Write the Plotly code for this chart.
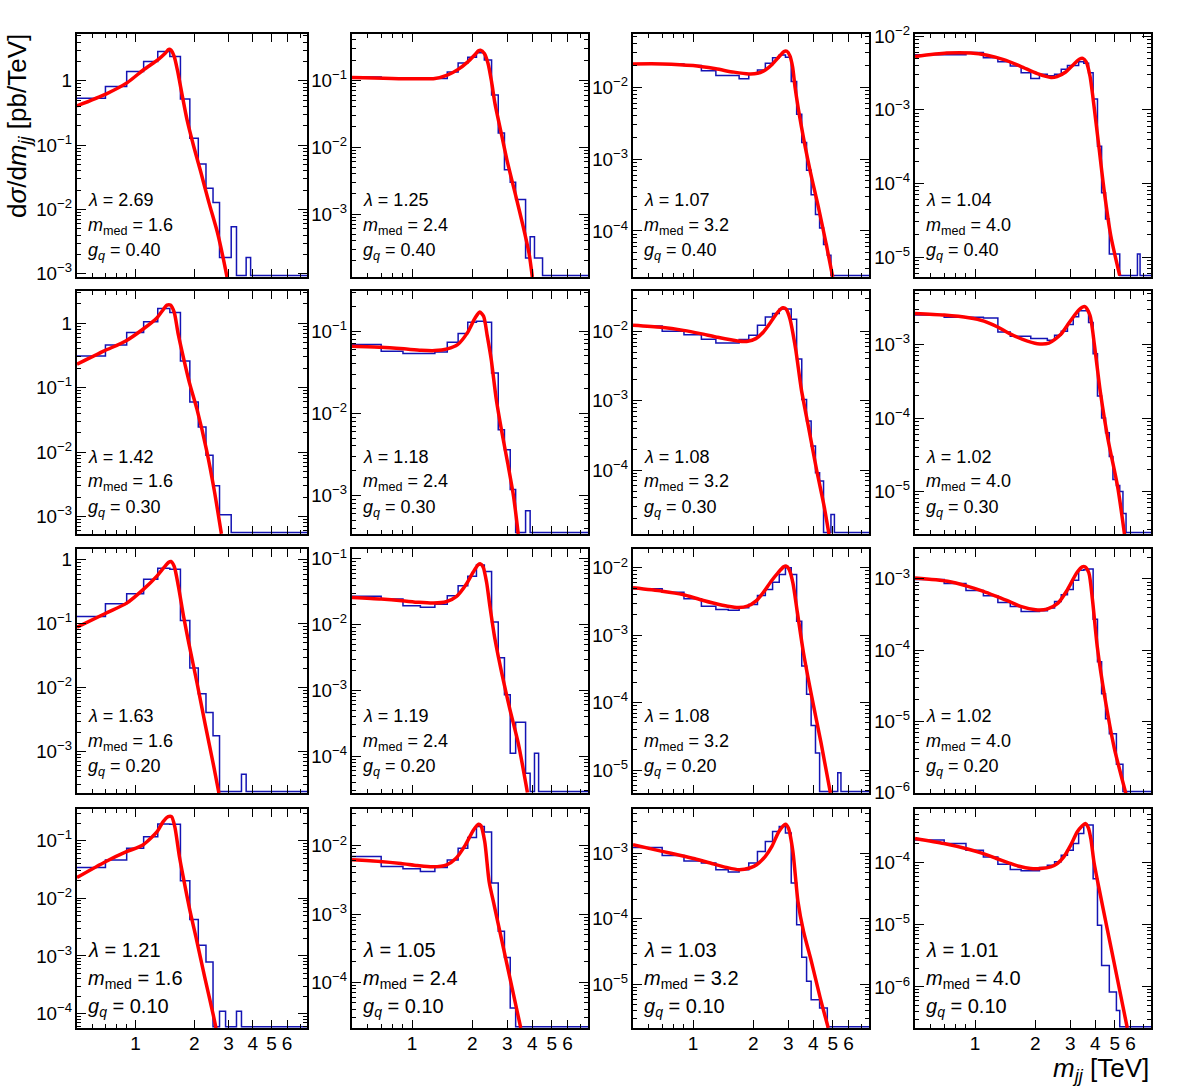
import math
import plotly.graph_objects as go

# ---------------- data ----------------
# histogram bin edges in TeV (0.2 TeV bins)
EDGES_TEV = [0.5, 0.7, 0.9, 1.1, 1.3, 1.5, 1.7, 1.9, 2.1, 2.3, 2.5, 2.7, 2.9, 3.1, 3.3, 3.5,
             3.7, 3.9, 4.1, 4.3, 4.5, 4.7, 4.9, 5.1, 5.3, 5.5, 5.7, 5.9, 6.1, 6.3, 6.5, 6.7,
             6.9, 7.1, 7.3, 7.5, 7.7]

# histogram contents (pb/TeV); bins not listed are empty
H_R1C1 = [0.54, 0.82, 1.40, 2.0, 2.86, 2.39, 0.525, 0.128, 0.051, 0.0215, 0.0129, 1.8e-3, 1.8e-3, 5.4e-3, 0, 0, 1.8e-3]
H_R1C2 = [0.112, 0.108, 0.105, 0.104, 0.106, 0.133, 0.18, 0.22, 0.256, 0.20, 0.06, 0.0163, 4.6e-3, 3.0e-3, 1.65e-3, 1.65e-3, 2.2e-4, 4.6e-4, 2.2e-4, 2.2e-4]
H_R1C3 = [0.0211, 0.0211, 0.0200, 0.017, 0.0145, 0.0145, 0.0131, 0.0153, 0.0174, 0.0215, 0.0257, 0.028, 0.026, 0.012, 4.2e-3, 1.7e-3, 7e-4, 3.2e-4, 1.7e-4, 1.1e-4, 6.5e-5, 4.6e-5]
H_R1C4 = [5.6e-3, 5.6e-3, 6.0e-3, 5.1e-3, 4.5e-3, 3.95e-3, 3.2e-3, 2.66e-3, 3.05e-3, 2.9e-3, 3.05e-3, 3.56e-3, 4.0e-3, 4.0e-3, 4.5e-3, 4.3e-3, 3.2e-3, 1.4e-3, 3.2e-4, 7.5e-5, 3.3e-5, 1.1e-5, 1.1e-5, 1.1e-5, 0, 0, 0, 0, 0, 0, 1.1e-5]
H_R2C1 = [0.31, 0.46, 0.72, 1.05, 1.69, 1.47, 0.26, 0.06, 0.0245, 8.97e-3, 3.0e-3, 1.07e-3, 1.07e-3]
H_R2C2 = [0.0687, 0.057, 0.0534, 0.0534, 0.056, 0.0734, 0.094, 0.129, 0.132, 0.129, 0.031, 6.3e-3, 3.6e-3, 1.18e-3, 0, 0, 6.5e-4]
H_R2C3 = [0.0119, 0.010, 8.9e-3, 7.65e-3, 6.8e-3, 6.8e-3, 7.6e-3, 8.75e-3, 0.0122, 0.0161, 0.018, 0.0209, 0.0209, 0.0149, 4.0e-3, 1.04e-3, 5.1e-4, 2.23e-4, 9.2e-5, 7e-5, 0, 0, 2.3e-5]
H_R2C4 = [2.53e-3, 2.35e-3, 2.35e-3, 2.3e-3, 1.49e-3, 1.3e-3, 1.3e-3, 1.21e-3, 1.21e-3, 1.15e-3, 1.34e-3, 1.52e-3, 1.88e-3, 2.4e-3, 2.9e-3, 2.9e-3, 2.0e-3, 7.5e-4, 2.0e-4, 1.0e-4, 6.3e-5, 3.0e-5, 1.45e-5, 1.2e-5, 1.0e-5, 5e-6]
H_R3C1 = [0.13, 0.205, 0.294, 0.498, 0.74, 0.714, 0.112, 0.0202, 8.0e-3, 4.08e-3, 1.76e-3, 0, 0, 0, 0, 4.4e-4]
H_R3C2 = [0.0269, 0.0245, 0.0194, 0.0183, 0.0205, 0.0275, 0.039, 0.0543, 0.081, 0.064, 0.011, 3.14e-3, 8.6e-4, 1.11e-4, 3.27e-4, 3.27e-4, 5.5e-5, 0, 1.11e-4]
H_R3C3 = [4.88e-3, 4.36e-3, 3.47e-3, 2.7e-3, 2.41e-3, 2.36e-3, 2.55e-3, 2.86e-3, 3.89e-3, 4.77e-3, 6.1e-3, 7.95e-3, 0.0100, 8.0e-3, 1.62e-3, 3.5e-4, 1.33e-4, 4.6e-5, 1.8e-5, 0, 0, 0, 0, 0, 9.1e-6]
H_R3C4 = [9.8e-4, 8.6e-4, 6.9e-4, 5.8e-4, 4.68e-4, 4.1e-4, 3.5e-4, 3.5e-4, 3.57e-4, 3.9e-4, 4.83e-4, 6.0e-4, 7.1e-4, 9.6e-4, 1.32e-3, 1.35e-3, 1.38e-3, 2.72e-4, 6.9e-5, 2.45e-5, 1.09e-5, 6.7e-6, 6.7e-6, 2.5e-6, 2.5e-6]
H_R4C1 = [0.0343, 0.0461, 0.0736, 0.1175, 0.195, 0.192, 0.0201, 4.29e-3, 1.53e-3, 7.87e-4, 0, 1.1e-4, 0, 0, 1.1e-4]
H_R4C2 = [6.98e-3, 4.99e-3, 4.6e-3, 4.2e-3, 4.8e-3, 6.2e-3, 9.2e-3, 0.0132, 0.0192, 0.0159, 2.85e-3, 5.6e-4, 2.3e-4, 4.2e-5]
H_R4C3 = [1.22e-3, 9.2e-4, 7.6e-4, 7.05e-4, 5.58e-4, 5.14e-4, 5.58e-4, 7.05e-4, 1.06e-3, 1.5e-3, 2.13e-3, 2.54e-3, 2.01e-3, 3.5e-4, 8.1e-5, 2.6e-5, 1.12e-5, 5.9e-6, 5.9e-6, 4.4e-6, 4.4e-6]
H_R4C4 = [2.29e-4, 2.02e-4, 1.58e-4, 1.23e-4, 9.4e-5, 7.7e-5, 7.35e-5, 7.35e-5, 8.3e-5, 9.06e-5, 1.03e-4, 1.31e-4, 1.58e-4, 2.02e-4, 2.93e-4, 3.99e-4, 3.99e-4, 5.5e-5, 9.8e-6, 2.22e-6, 2.22e-6, 8.3e-7, 8.3e-7, 4.2e-7]

# fitted curves: mass (TeV) and dsigma/dm (pb/TeV)
CX_R1C1 = [0.5, 0.708, 0.906, 1.095, 1.31, 1.42, 1.48, 1.52, 1.58, 1.64, 1.74, 1.84, 1.99, 2.16, 2.38, 2.64, 2.83, 2.95]
CY_R1C1 = [0.41, 0.63, 0.94, 1.48, 2.17, 2.69, 3.09, 3.02, 2.39, 1.48, 0.575, 0.245, 0.0955, 0.0389, 0.0129, 4.27e-3, 1.66e-3, 8.9e-4]
CX_R1C2 = [0.5, 1.0, 1.3, 1.5, 1.7, 1.9, 2.05, 2.15, 2.2, 2.3, 2.4, 2.5, 2.6, 2.8, 3.0, 3.3, 3.6, 3.85, 4.0]
CY_R1C2 = [0.110, 0.105, 0.106, 0.119, 0.145, 0.188, 0.236, 0.275, 0.281, 0.251, 0.178, 0.0944, 0.0447, 0.0158, 6.0e-3, 1.9e-3, 6.5e-4, 2.6e-4, 1.15e-4]
CX_R1C3 = [0.5, 0.7, 1.0, 1.3, 1.6, 1.9, 2.1, 2.3, 2.5, 2.7, 2.85, 2.95, 3.05, 3.15, 3.24, 3.49, 3.85, 4.24, 4.67, 5.0]
CY_R1C3 = [0.0211, 0.0211, 0.0200, 0.0180, 0.0162, 0.0153, 0.0156, 0.0174, 0.0211, 0.0267, 0.0313, 0.0316, 0.0275, 0.0191, 0.0100, 2.78e-3, 6.97e-4, 2.15e-4, 6.0e-5, 2.3e-5]
CX_R1C4 = [0.5, 0.72, 0.95, 1.15, 1.39, 1.69, 2.05, 2.4, 2.57, 2.83, 3.12, 3.34, 3.46, 3.6, 3.76, 3.94, 4.18, 4.42, 4.78, 5.3]
CY_R1C4 = [5.3e-3, 5.9e-3, 5.9e-3, 5.5e-3, 4.8e-3, 3.9e-3, 3.1e-3, 2.75e-3, 2.83e-3, 3.24e-3, 4.17e-3, 4.9e-3, 5.0e-3, 4.47e-3, 2.88e-3, 1.12e-3, 2.95e-4, 8.3e-5, 1.95e-5, 5.6e-6]
CX_R2C1 = [0.5, 0.69, 0.89, 1.09, 1.29, 1.37, 1.45, 1.51, 1.58, 1.65, 1.77, 1.89, 2.07, 2.32, 2.54, 2.76]
CY_R2C1 = [0.231, 0.372, 0.531, 0.807, 1.22, 1.55, 1.91, 1.91, 1.47, 0.716, 0.275, 0.120, 0.0457, 0.0105, 2.5e-3, 5.4e-4]
CX_R2C2 = [0.5, 0.70, 0.91, 1.11, 1.30, 1.50, 1.69, 1.89, 2.07, 2.18, 2.28, 2.38, 2.49, 2.64, 2.82, 3.01, 3.22, 3.40]
CY_R2C2 = [0.0656, 0.0638, 0.0610, 0.0586, 0.0581, 0.0610, 0.0687, 0.0955, 0.146, 0.171, 0.152, 0.0871, 0.0452, 0.0147, 5.75e-3, 2.48e-3, 9.8e-4, 3.4e-4]
CX_R2C3 = [0.5, 0.69, 0.895, 1.09, 1.30, 1.67, 1.88, 2.06, 2.25, 2.45, 2.68, 2.82, 2.92, 3.05, 3.26, 3.48, 3.80, 4.15, 4.53, 4.79]
CY_R2C3 = [0.0122, 0.0114, 0.0103, 9.25e-3, 8.28e-3, 7.24e-3, 7.16e-3, 7.83e-3, 9.77e-3, 0.0136, 0.0195, 0.0218, 0.0209, 0.0153, 5.6e-3, 1.48e-3, 3.9e-4, 1.02e-4, 3.0e-5, 1.2e-5]
CX_R2C4 = [0.5, 0.70, 0.93, 1.107, 1.29, 1.49, 1.73, 2.05, 2.34, 2.68, 2.98, 3.33, 3.55, 3.76, 3.96, 4.24, 4.63, 5.17, 5.6]
CY_R2C4 = [2.66e-3, 2.53e-3, 2.32e-3, 2.09e-3, 1.75e-3, 1.41e-3, 1.18e-3, 1.03e-3, 1.05e-3, 1.37e-3, 2.05e-3, 3.02e-3, 3.29e-3, 2.51e-3, 9.8e-4, 2.24e-4, 5.1e-5, 1.17e-5, 2.6e-6]
CX_R3C1 = [0.5, 0.703, 0.9, 1.10, 1.29, 1.39, 1.48, 1.52, 1.58, 1.66, 1.765, 1.87, 2.07, 2.28, 2.52, 2.68]
CY_R3C1 = [0.0883, 0.146, 0.210, 0.348, 0.562, 0.741, 0.918, 0.942, 0.787, 0.383, 0.130, 0.0525, 0.0117, 2.63e-3, 5.9e-4, 2.24e-4]
CX_R3C2 = [0.5, 0.70, 0.89, 1.08, 1.28, 1.48, 1.67, 1.87, 2.02, 2.14, 2.20, 2.27, 2.36, 2.45, 2.60, 2.81, 3.09, 3.40, 3.78]
CY_R3C2 = [0.0259, 0.0245, 0.0231, 0.0218, 0.0213, 0.0223, 0.0269, 0.0415, 0.0625, 0.0809, 0.0839, 0.0746, 0.0440, 0.0194, 5.98e-3, 1.85e-3, 5.1e-4, 1.58e-4, 2.8e-5]
CX_R3C3 = [0.5, 0.70, 0.887, 1.08, 1.29, 1.49, 1.69, 1.87, 2.06, 2.24, 2.46, 2.66, 2.84, 2.93, 3.03, 3.16, 3.33, 3.57, 3.92, 4.37, 4.87]
CY_R3C3 = [5.06e-3, 4.51e-3, 4.03e-3, 3.40e-3, 2.96e-3, 2.70e-3, 2.58e-3, 2.70e-3, 3.21e-3, 4.27e-3, 6.34e-3, 8.43e-3, 0.01035, 0.0106, 9.44e-3, 6.0e-3, 2.15e-3, 5.5e-4, 1.26e-4, 2.55e-5, 4.6e-6]
CX_R3C4 = [0.5, 0.728, 0.92, 1.10, 1.28, 1.48, 1.69, 2.01, 2.29, 2.6, 2.9, 3.23, 3.44, 3.55, 3.71, 3.87, 4.09, 4.46, 4.97, 5.7]
CY_R3C4 = [1.03e-3, 9.27e-4, 7.87e-4, 6.7e-4, 5.69e-4, 4.83e-4, 4.11e-4, 3.69e-4, 3.77e-4, 4.58e-4, 7.06e-4, 1.22e-3, 1.48e-3, 1.48e-3, 1.22e-3, 5.1e-4, 1.12e-4, 2.2e-5, 4.3e-6, 9.5e-7]
CX_R4C1 = [0.5, 0.70, 0.898, 1.09, 1.29, 1.386, 1.47, 1.53, 1.59, 1.68, 1.77, 1.90, 2.06, 2.27, 2.51, 2.59]
CY_R4C1 = [0.0230, 0.0432, 0.0644, 0.0841, 0.1435, 0.214, 0.261, 0.261, 0.175, 0.0527, 0.0207, 6.22e-3, 1.87e-3, 4.17e-4, 9.3e-5, 5.6e-5]
CX_R4C2 = [0.5, 0.69, 0.88, 1.06, 1.27, 1.49, 1.65, 1.85, 2.03, 2.15, 2.21, 2.31, 2.43, 2.58, 2.8, 3.1, 3.5]
CY_R4C2 = [6.24e-3, 5.9e-3, 5.51e-3, 5.15e-3, 4.93e-3, 5.27e-3, 6.46e-3, 0.01035, 0.01714, 0.02075, 0.0198, 0.01156, 3.0e-3, 1.32e-3, 4.37e-4, 1.1e-4, 2.14e-5]
CX_R4C3 = [0.5, 0.70, 0.867, 1.02, 1.22, 1.47, 1.70, 1.92, 2.08, 2.30, 2.48, 2.69, 2.9, 3.0, 3.16, 3.35, 3.57, 3.91, 4.33, 4.75]
CY_R4C3 = [1.34e-3, 1.06e-3, 9.2e-4, 8.2e-4, 7.05e-4, 6.05e-4, 5.58e-4, 5.92e-4, 6.65e-4, 8.9e-4, 1.26e-3, 2.13e-3, 2.75e-3, 2.4e-3, 1.06e-3, 1.84e-4, 6.5e-5, 2.26e-5, 6.3e-6, 2.2e-6]
CX_R4C4 = [0.5, 0.698, 0.897, 1.09, 1.28, 1.47, 1.66, 1.90, 2.13, 2.39, 2.58, 2.78, 3.01, 3.25, 3.44, 3.56, 3.68, 3.8, 3.94, 4.17, 4.59, 5.15, 5.78]
CY_R4C4 = [2.44e-4, 2.02e-4, 1.68e-4, 1.40e-4, 1.16e-4, 9.9e-5, 8.7e-5, 8.0e-5, 8.0e-5, 8.5e-5, 9.6e-5, 1.23e-4, 1.9e-4, 3.12e-4, 3.9e-4, 4.25e-4, 3.7e-4, 2.4e-4, 1.0e-4, 3.9e-5, 8.5e-6, 1.38e-6, 2.2e-7]

# panel parameters (row-major)
LAMBDA = ["2.69", "1.25", "1.07", "1.04",
          "1.42", "1.18", "1.08", "1.02",
          "1.63", "1.19", "1.08", "1.02",
          "1.21", "1.05", "1.03", "1.01"]
M_MED = ["1.6", "2.4", "3.2", "4.0"]
G_Q = ["0.40", "0.30", "0.20", "0.10"]
X_TICKS = [1, 2, 3, 4, 5, 6]
X_MINOR_TICKS = [0.6, 0.7, 0.8, 0.9, 7]

HISTS = [H_R1C1, H_R1C2, H_R1C3, H_R1C4, H_R2C1, H_R2C2, H_R2C3, H_R2C4,
         H_R3C1, H_R3C2, H_R3C3, H_R3C4, H_R4C1, H_R4C2, H_R4C3, H_R4C4]
CURVES_X = [CX_R1C1, CX_R1C2, CX_R1C3, CX_R1C4, CX_R2C1, CX_R2C2, CX_R2C3, CX_R2C4,
            CX_R3C1, CX_R3C2, CX_R3C3, CX_R3C4, CX_R4C1, CX_R4C2, CX_R4C3, CX_R4C4]
CURVES_Y = [CY_R1C1, CY_R1C2, CY_R1C3, CY_R1C4, CY_R2C1, CY_R2C2, CY_R2C3, CY_R2C4,
            CY_R3C1, CY_R3C2, CY_R3C3, CY_R3C4, CY_R4C1, CY_R4C2, CY_R4C3, CY_R4C4]

# ---------------- layout settings ----------------
W, H = 1182, 1086
COL_PX = [(77, 307), (352, 588), (633, 869), (915, 1151)]
ROW_PX = [(34, 277), (291, 534), (549, 793), (809, 1028)]
X_RANGE = [math.log10(0.5), math.log10(7.6)]
Y_RANGES = [(-3.05, 0.73), (-3.94, -0.31), (-4.64, -1.26), (-5.27, -1.97),
            (-3.27, 0.50), (-3.47, -0.51), (-4.92, -1.42), (-5.58, -2.27),
            (-3.65, 0.17), (-4.56, -0.85), (-5.34, -1.72), (-6.005, -2.58),
            (-4.25, -0.45), (-4.67, -1.46), (-5.66, -2.33), (-6.66, -3.14)]
FONT = "Liberation Sans, Arial, Helvetica, sans-serif"
BLUE = "#1414b4"
RED = "#ff0000"

fig = go.Figure()
layout = dict(width=W, height=H, autosize=False,
              margin=dict(l=0, r=0, t=0, b=0, pad=0, autoexpand=False),
              paper_bgcolor="white", plot_bgcolor="white", showlegend=False,
              font=dict(family=FONT, color="black"))
annotations = []
nbins = len(EDGES_TEV) - 1

for r in range(4):
    for c in range(4):
        i = r * 4 + c
        n = i + 1
        xs = "" if n == 1 else str(n)
        xa, ya = "x" + xs, "y" + xs
        ymin, ymax = Y_RANGES[i]
        floor = 10 ** (ymin + 0.006 * (ymax - ymin))

        vals = list(HISTS[i]) + [0.0] * (nbins - len(HISTS[i]))
        yv = [max(v, floor) for v in vals]
        yv.append(yv[-1])
        fig.add_trace(go.Scatter(x=EDGES_TEV, y=yv, mode="lines",
                                 line=dict(shape="hv", color=BLUE, width=1.5),
                                 xaxis=xa, yaxis=ya, hoverinfo="skip"))
        fig.add_trace(go.Scatter(x=CURVES_X[i], y=CURVES_Y[i], mode="lines",
                                 line=dict(shape="spline", smoothing=0.7, color=RED, width=3.5),
                                 xaxis=xa, yaxis=ya, hoverinfo="skip"))

        x0, x1 = COL_PX[c]
        y0, y1 = ROW_PX[r]
        layout["xaxis" + xs] = dict(
            type="log", range=X_RANGE, domain=[x0 / W, x1 / W], anchor=ya,
            automargin=False,
            showline=True, linecolor="black", linewidth=2, mirror="ticks",
            ticks="inside", ticklen=8, tickwidth=1, tickcolor="black",
            tickmode="array", tickvals=X_TICKS, ticktext=[str(t) for t in X_TICKS],
            showticklabels=(r == 3), tickfont=dict(size=19, family=FONT),
            ticklabelstandoff=-3,
            minor=dict(ticks="inside", ticklen=4, tickcolor="black", tickmode="array",
                       tickvals=X_MINOR_TICKS),
            showgrid=False, zeroline=False, fixedrange=True)
        layout["yaxis" + xs] = dict(
            type="log", range=[ymin, ymax], domain=[1 - y1 / H, 1 - y0 / H], anchor=xa,
            automargin=False,
            showline=True, linecolor="black", linewidth=2, mirror="ticks",
            ticks="inside", ticklen=9, tickwidth=1, tickcolor="black",
            tickmode="linear", tick0=0, dtick=1, exponentformat="power",
            tickfont=dict(size=15, family=FONT),
            minor=dict(ticks="inside", ticklen=4, tickcolor="black", dtick="D1"),
            showgrid=False, zeroline=False, fixedrange=True)

        fs = 20 if r == 3 else 18
        offs = (78, 49, 21) if r == 3 else (77, 51, 26)
        texts = ["<i>λ</i> = " + LAMBDA[i],
                 "<i>m</i><sub>med</sub> = " + M_MED[c],
                 "<i>g</i><sub><i>q</i></sub> = " + G_Q[r]]
        for t, o in zip(texts, offs):
            annotations.append(dict(x=(x0 + 9) / W, y=1 - (y1 - o) / H, xref="paper", yref="paper",
                                    text=t, showarrow=False, xanchor="left", yanchor="middle",
                                    font=dict(size=fs, family=FONT, color="black")))

annotations.append(dict(x=18 / W, y=1 - 126 / H, xref="paper", yref="paper",
                        text="d<i>σ</i>/d<i>m</i><sub><i>jj</i></sub> [pb/TeV]",
                        showarrow=False, textangle=-90, xanchor="center", yanchor="middle",
                        font=dict(size=26, family=FONT, color="black")))
annotations.append(dict(x=1151 / W, y=1 - 1069 / H, xref="paper", yref="paper",
                        text="<i>m</i><sub><i>jj</i></sub> [TeV]",
                        showarrow=False, xanchor="right", yanchor="middle",
                        font=dict(size=26, family=FONT, color="black")))
layout["annotations"] = annotations
fig.update_layout(**layout)
fig.write_html("out.html")
